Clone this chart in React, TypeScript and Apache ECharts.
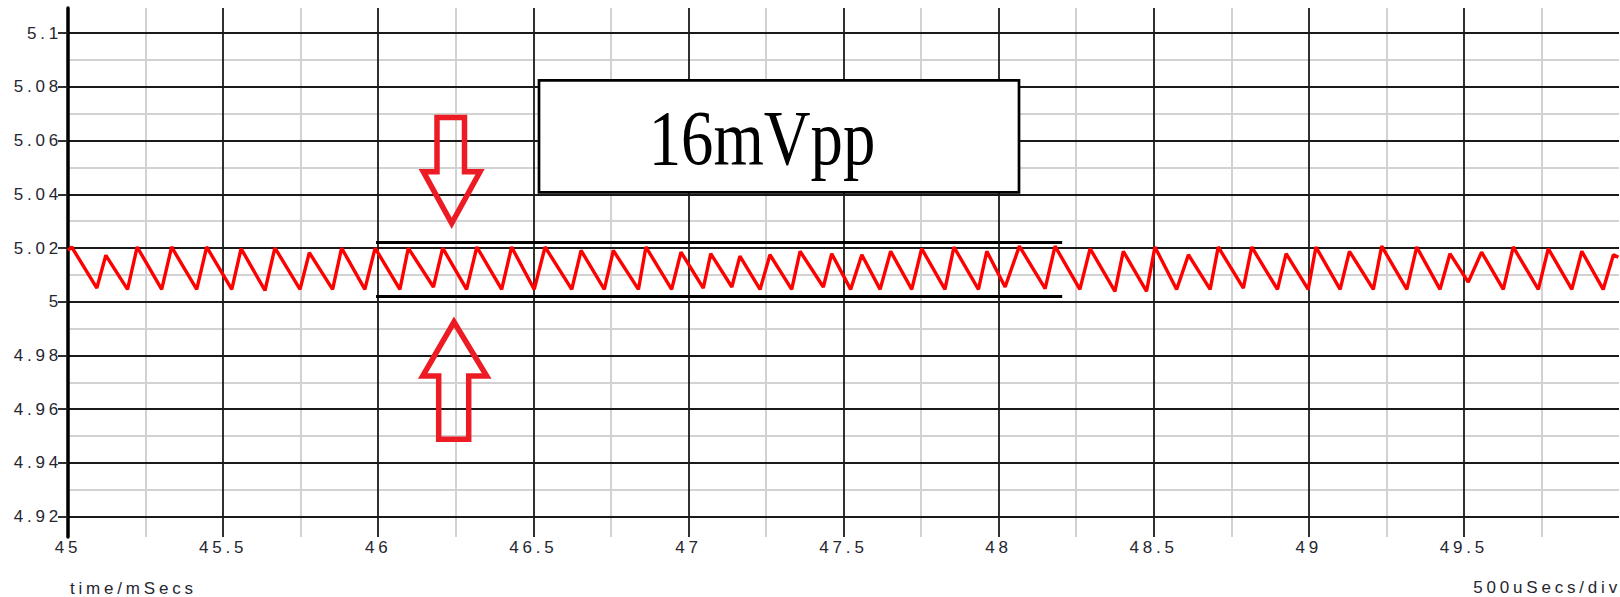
import React, { useEffect, useRef } from "react";
import * as echarts from "echarts";

// ---- data ----
const times = [45.0, 45.012, 45.093, 45.122, 45.192, 45.223, 45.302, 45.334, 45.415, 45.447, 45.528, 45.558, 45.635, 45.667, 45.748, 45.778, 45.853, 45.882, 45.957, 45.99, 46.07, 46.097, 46.178, 46.208, 46.285, 46.318, 46.398, 46.43, 46.503, 46.538, 46.624, 46.654, 46.729, 46.758, 46.839, 46.863, 46.946, 46.976, 47.048, 47.072, 47.14, 47.166, 47.231, 47.263, 47.333, 47.36, 47.435, 47.462, 47.523, 47.559, 47.618, 47.652, 47.72, 47.752, 47.827, 47.856, 47.935, 47.962, 48.021, 48.067, 48.15, 48.182, 48.262, 48.295, 48.375, 48.402, 48.477, 48.504, 48.574, 48.612, 48.682, 48.708, 48.789, 48.816, 48.899, 48.927, 48.998, 49.023, 49.101, 49.131, 49.208, 49.235, 49.316, 49.348, 49.423, 49.455, 49.514, 49.557, 49.627, 49.659, 49.74, 49.772, 49.848, 49.88, 49.949, 49.982, 49.998];
const volts = [5.0191, 5.0204, 5.0051, 5.0173, 5.0046, 5.0204, 5.0046, 5.0204, 5.0046, 5.0204, 5.0046, 5.0198, 5.0042, 5.0201, 5.0046, 5.0183, 5.0046, 5.02, 5.0046, 5.02, 5.0046, 5.02, 5.0055, 5.02, 5.0046, 5.0204, 5.0046, 5.0204, 5.0046, 5.0204, 5.0046, 5.0191, 5.0046, 5.0191, 5.0046, 5.0204, 5.0046, 5.0185, 5.0051, 5.0179, 5.0055, 5.017, 5.0046, 5.0175, 5.0046, 5.0188, 5.0055, 5.0179, 5.0046, 5.0175, 5.0046, 5.0188, 5.0046, 5.0198, 5.0046, 5.0204, 5.0046, 5.0188, 5.0055, 5.0207, 5.0049, 5.0207, 5.0046, 5.0198, 5.0039, 5.0188, 5.0039, 5.0204, 5.0046, 5.0175, 5.0046, 5.0204, 5.0051, 5.0204, 5.0046, 5.0179, 5.0046, 5.0204, 5.0046, 5.0188, 5.0046, 5.0207, 5.0046, 5.0204, 5.0046, 5.0179, 5.0073, 5.0185, 5.0046, 5.0204, 5.0046, 5.0198, 5.0046, 5.0188, 5.0046, 5.0175, 5.0166];

const majorTimeTicks = [45, 45.5, 46, 46.5, 47, 47.5, 48, 48.5, 49, 49.5];
const minorTimeTicks = [45.25, 45.75, 46.25, 46.75, 47.25, 47.75, 48.25, 48.75, 49.25, 49.75];
const majorVoltTicks = [4.92, 4.94, 4.96, 4.98, 5, 5.02, 5.04, 5.06, 5.08, 5.1];
const minorVoltTicks = [4.93, 4.95, 4.97, 4.99, 5.01, 5.03, 5.05, 5.07, 5.09];
const timeRange = [45, 50];
const voltRange = [4.9124, 5.1094];

const bracketTimes = [45.993, 48.205];
const bracketLevels = [5.0221, 5.0019];
const annotationText = "16mVpp";
const xAxisTitle = "time/mSecs";
const scaleTitle = "500uSecs/div";

export default function App() {
  const ref = useRef<HTMLDivElement>(null);

  useEffect(() => {
    if (!ref.current) return;
    const chart = echarts.init(ref.current, null, { renderer: "svg" });
    const seriesData = times.map((t, i) => [t, volts[i]]);
    const labelStyle = {
      fontFamily: "Liberation Sans",
      fontSize: 17,
      color: "#262630",
    };
    const major = { color: "#1a1a1a", width: 1.8 };
    const minor = { color: "#d2d2d2", width: 2 };

    chart.setOption({
      animation: false,
      backgroundColor: "#ffffff",
      grid: { left: 68, right: 1, top: 8, bottom: 60 },
      xAxis: [
        {
          type: "value",
          min: timeRange[0],
          max: timeRange[1],
          z: 1,
          axisLine: { show: false },
          axisTick: { show: false, customValues: majorTimeTicks },
          axisLabel: { ...labelStyle, margin: 2, customValues: majorTimeTicks },
          splitLine: { show: true, lineStyle: major },
        },
        {
          type: "value",
          min: timeRange[0],
          max: timeRange[1],
          z: 0,
          axisLine: { show: false },
          axisTick: { show: false, customValues: minorTimeTicks },
          axisLabel: { show: false },
          splitLine: { show: true, lineStyle: minor },
        },
      ],
      yAxis: [
        {
          type: "value",
          min: voltRange[0],
          max: voltRange[1],
          z: 2,
          axisLine: { show: true, lineStyle: { color: "#000", width: 3.5 } },
          axisTick: { show: true, length: 10, lineStyle: major, customValues: majorVoltTicks },
          axisLabel: { ...labelStyle, margin: 6, customValues: majorVoltTicks },
          splitLine: { show: true, lineStyle: major },
        },
        {
          type: "value",
          min: voltRange[0],
          max: voltRange[1],
          z: 0,
          axisLine: { show: false },
          axisTick: { show: false, customValues: minorVoltTicks },
          axisLabel: { show: false },
          splitLine: { show: true, lineStyle: minor },
        },
      ],
      series: [
        {
          type: "line",
          xAxisIndex: 0,
          yAxisIndex: 0,
          data: seriesData,
          showSymbol: false,
          symbol: "none",
          lineStyle: { color: "#ff0000", width: 3.4 },
          z: 5,
          markLine: {
            silent: true,
            symbol: "none",
            label: { show: false },
            lineStyle: { color: "#000", width: 3.2, type: "solid" },
            data: bracketLevels.map((lvl) => [
              { coord: [bracketTimes[0], lvl] },
              { coord: [bracketTimes[1], lvl] },
            ]),
          },
        },
      ],
      graphic: [
        {
          type: "rect",
          z: 100,
          shape: { x: 539, y: 80.3, width: 480, height: 112 },
          style: { fill: "#ffffff", stroke: "#000", lineWidth: 2.7 },
        },
        {
          type: "text",
          z: 101,
          x: 762,
          y: 138,
          scaleX: 0.83,
          style: {
            text: annotationText,
            x: 0,
            y: 0,
            fontFamily: "Liberation Serif",
            fontSize: 78,
            fill: "#000",
            align: "center",
            verticalAlign: "middle",
          },
        },
        {
          type: "polygon",
          z: 100,
          shape: {
            points: [[437, 117.5], [464.5, 117.5], [464.5, 171.7], [480, 171.7], [451.7, 223.3], [423.3, 171.7], [437, 171.7]],
          },
          style: { fill: "none", stroke: "#ed1c24", lineWidth: 5.5 },
        },
        {
          type: "polygon",
          z: 100,
          shape: {
            points: [[454, 322], [486.7, 376], [468.7, 376], [468.7, 439.3], [438.7, 439.3], [438.7, 376], [422.7, 376]],
          },
          style: { fill: "none", stroke: "#ed1c24", lineWidth: 5.5 },
        },
        {
          type: "text",
          z: 100,
          style: {
            text: xAxisTitle,
            x: 70,
            y: 588,
            fontFamily: "Liberation Sans",
            fontSize: 17,
            fill: "#262630",
            align: "left",
            verticalAlign: "middle",
          },
        },
        {
          type: "text",
          z: 100,
          style: {
            text: scaleTitle,
            x: 1621,
            y: 587,
            fontFamily: "Liberation Sans",
            fontSize: 17,
            fill: "#262630",
            align: "right",
            verticalAlign: "middle",
          },
        },
      ],
    });

    return () => chart.dispose();
  }, []);

  return (
    <>
      <style>{`.rchart text:not([style*="Serif"]) { letter-spacing: 3.8px; }`}</style>
      <div
        ref={ref}
        className="rchart"
        style={{ position: "absolute", left: 0, top: 0, width: 1620, height: 597, background: "#fff" }}
      />
    </>
  );
}
